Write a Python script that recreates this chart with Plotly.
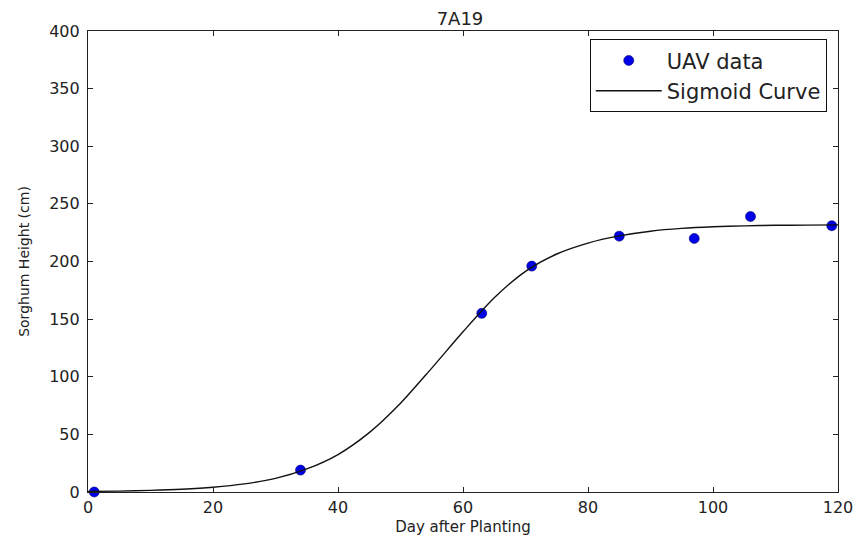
import plotly.graph_objects as go

# UAV measurements (day after planting, height cm)
uav_days = [1, 34, 63, 71, 85, 97, 106, 119]
uav_height = [0, 19, 155, 196, 222, 220, 239, 231]

# Fitted sigmoid curve
curve_days = [0, 5, 10, 15, 20, 25, 30, 35, 40, 45, 50, 55, 60, 65, 70, 75,
              80, 85, 90, 95, 100, 105, 110, 115, 120]
curve_height = [0.5, 0.8, 1.4, 2.4, 4.1, 7.0, 11.8, 20.0, 32.5, 51.5, 77.0,
                107.5, 139.0, 168.5, 191.5, 206.5, 216.0, 222.2, 226.3, 228.7,
                230.1, 230.9, 231.4, 231.6, 231.8]

x_ticks = [0, 20, 40, 60, 80, 100, 120]
y_ticks = [0, 50, 100, 150, 200, 250, 300, 350, 400]

FONT = "DejaVu Sans"

fig = go.Figure()
fig.add_trace(go.Scatter(
    x=uav_days, y=uav_height, mode="markers", name="UAV data",
    marker=dict(color="#0000e6", size=10, line=dict(color="#000070", width=0.6)),
    cliponaxis=False,
))
fig.add_trace(go.Scatter(
    x=curve_days, y=curve_height, mode="lines", name="Sigmoid Curve",
    line=dict(color="#111111", width=1.4, shape="spline", smoothing=0.8),
))

axis_common = dict(
    showline=True, linecolor="#222222", linewidth=1.2, mirror="ticks",
    ticks="inside", ticklen=5, tickwidth=1, tickcolor="#222222",
    showgrid=False, zeroline=False, automargin=False,
    tickfont=dict(family=FONT, size=16, color="#222222"),
)

fig.update_layout(
    width=859, height=537,
    margin=dict(l=88, r=21, t=31, b=45),
    paper_bgcolor="white", plot_bgcolor="white",
    title=dict(text="7A19", x=0.5355, xanchor="center", y=0.966, yanchor="middle",
               font=dict(family=FONT, size=18, color="#222222")),
    xaxis=dict(range=[0, 120], tickvals=x_ticks, ticklabelstandoff=1,
               title=dict(text="Day after Planting", standoff=5,
                          font=dict(family=FONT, size=15, color="#222222")),
               **axis_common),
    yaxis=dict(range=[0, 400], tickvals=y_ticks, ticklabelstandoff=4,
               title=dict(text="Sorghum Height (cm)", standoff=16,
                          font=dict(family=FONT, size=14, color="#222222")),
               **axis_common),
    legend=dict(x=0.985, xanchor="right", y=0.982, yanchor="top",
                bgcolor="white", bordercolor="#111111", borderwidth=1,
                font=dict(family=FONT, size=21, color="#222222"),
                itemwidth=66, tracegroupgap=0),
    showlegend=True,
)

# remove the browser's default page margin so the figure fills the window exactly
fig.write_html(
    "out.html",
    config={"displayModeBar": False},
    post_script=(
        "document.body.style.margin='0';"
        "document.body.style.overflow='hidden';"
        "document.documentElement.style.overflow='hidden';"
    ),
)
